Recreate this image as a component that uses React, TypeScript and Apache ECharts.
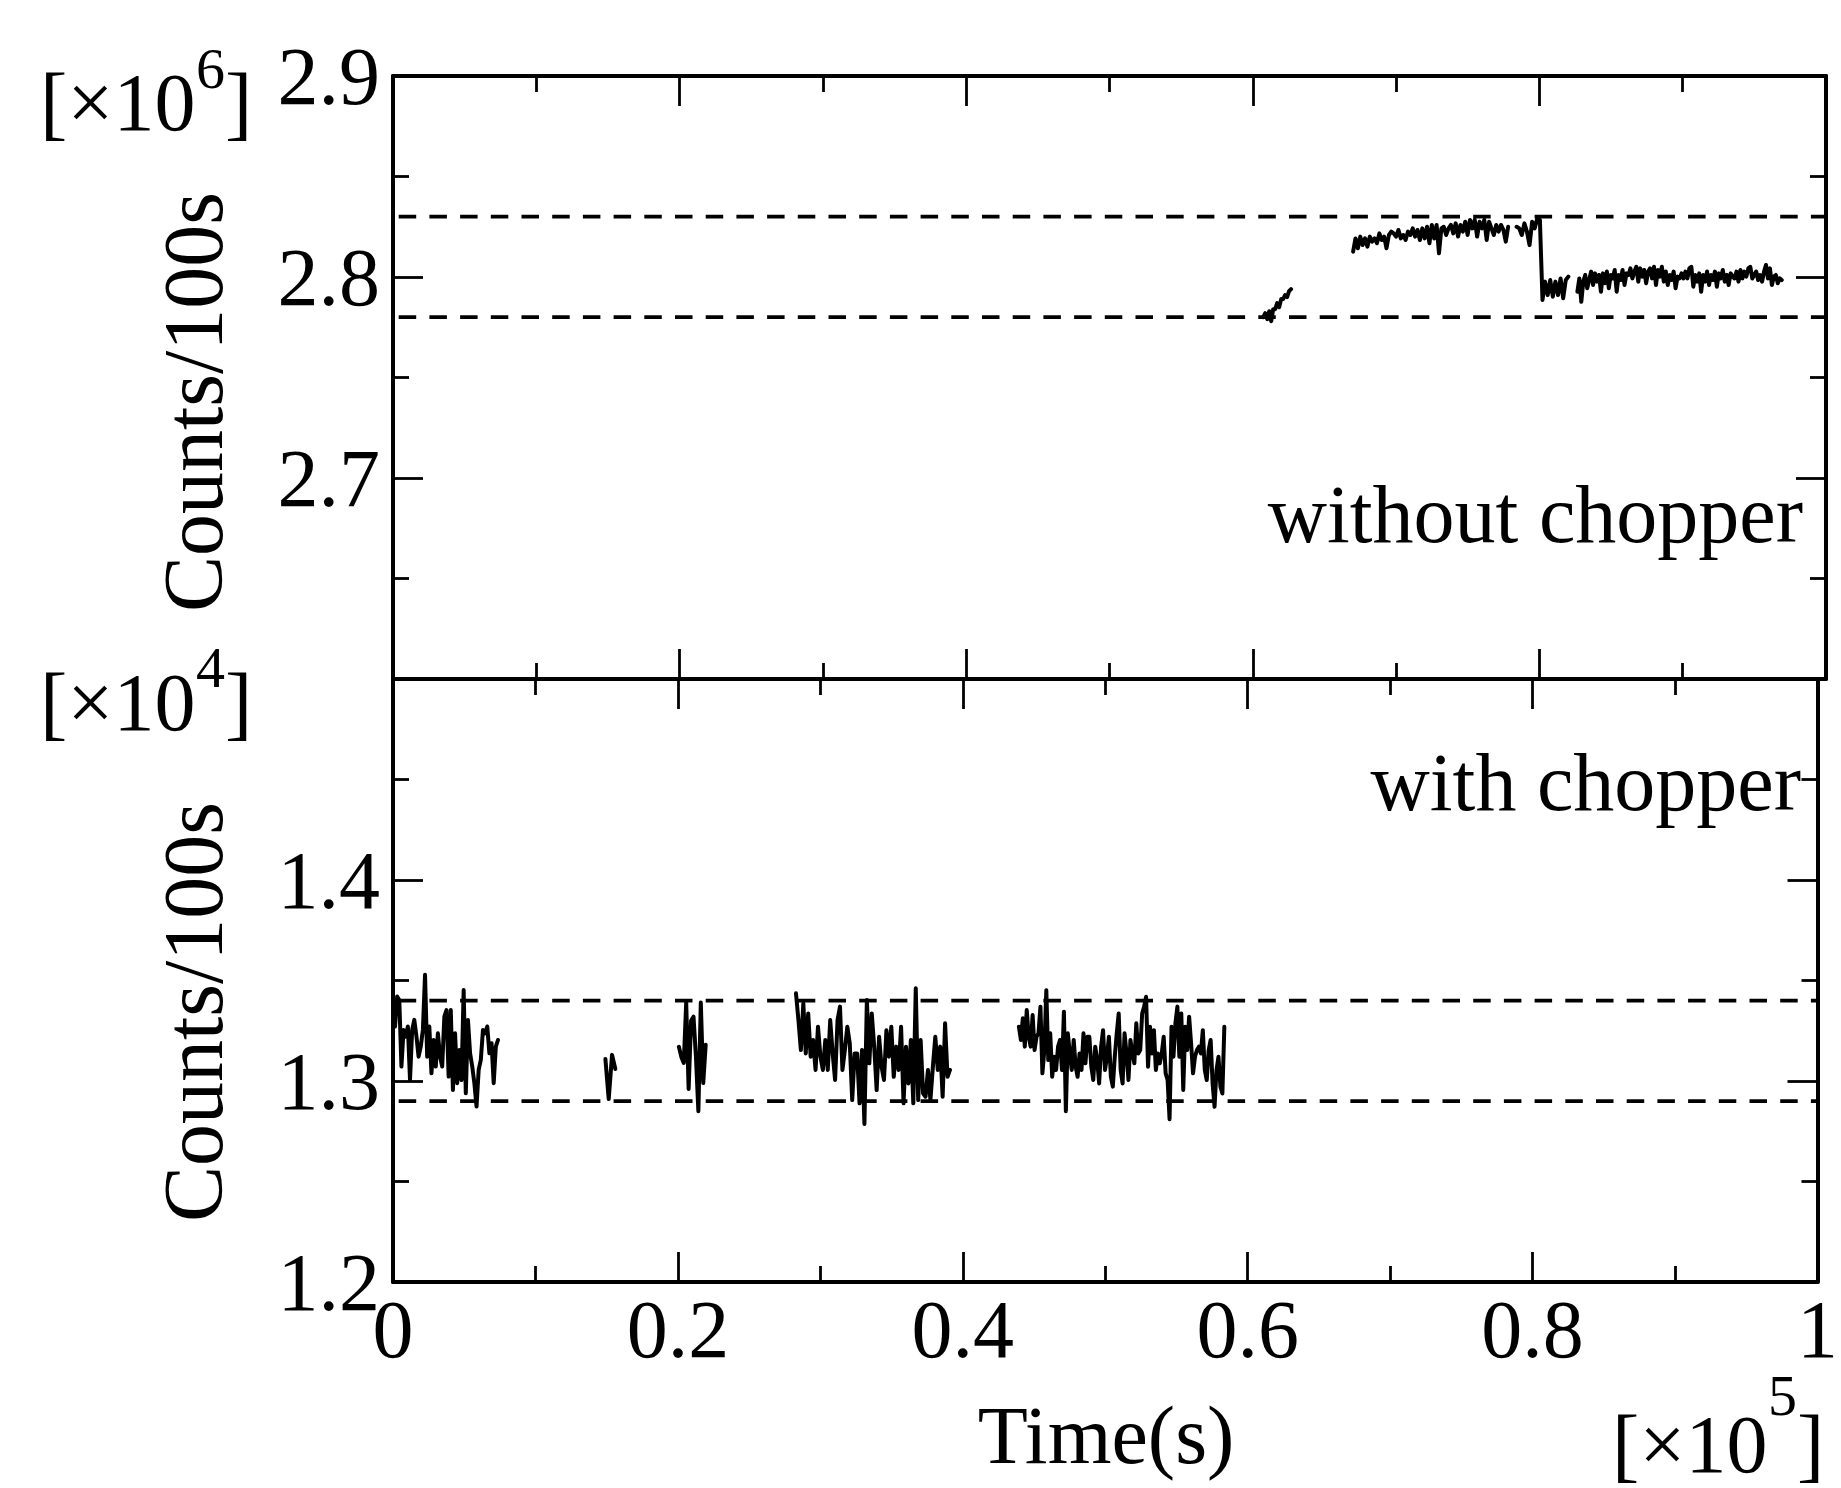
import React, { useEffect, useRef } from "react";
import * as echarts from "echarts";

// ---------- data (time in units of 1e5 s) ----------
const xTicks = [0, 0.2, 0.4, 0.6, 0.8, 1];
const topRange = [2.6, 2.9]; // ×1e6 counts/100s
const bottomRange = [1.2, 1.5]; // ×1e4 counts/100s
const topBand = [2.78, 2.83];
const bottomBand = [1.29, 1.34];

// without chopper (×1e6)
const top1Span = [0.6073, 0.6267];
const top1Values = [2.780, 2.782, 2.779, 2.783, 2.778, 2.784, 2.784, 2.787, 2.785, 2.789, 2.789, 2.791, 2.790, 2.793, 2.794];

const top2Span = [0.67, 0.7782];
const top2Values = [
  2.8126, 2.8192, 2.8143, 2.8201, 2.8159, 2.8192, 2.8151, 2.8201, 2.8176, 2.8192,
  2.8168, 2.8217, 2.8184, 2.8201, 2.8143, 2.8209, 2.8226, 2.8217, 2.8201, 2.8234,
  2.8192, 2.8209, 2.8184, 2.8226, 2.8209, 2.8242, 2.8201, 2.8234, 2.8184, 2.8242,
  2.8192, 2.825, 2.8168, 2.8259, 2.8192, 2.8259, 2.8118, 2.8242, 2.825, 2.8209,
  2.8242, 2.8259, 2.8217, 2.8267, 2.8201, 2.8259, 2.8226, 2.8275, 2.8209, 2.8284,
  2.8242, 2.8284, 2.8201, 2.8275, 2.8242, 2.8284, 2.8184, 2.8275, 2.8242, 2.8209,
  2.8259, 2.8226, 2.8259, 2.8234, 2.8176, 2.825,
];

const top3Span = [0.7841, 0.8202];
const top3Values = [
  2.825, 2.8242, 2.8209, 2.8267, 2.8226, 2.8159, 2.8275, 2.8242, 2.8292, 2.8284,
  2.7886, 2.7977, 2.791, 2.7985, 2.7902, 2.7977, 2.791, 2.7993, 2.7894, 2.7985, 2.8002,
];

const top4Span = [0.8265, 0.9691];
const top4Values = [
  2.7927, 2.7993, 2.7877, 2.7977, 2.801, 2.7944, 2.7985, 2.8027, 2.796, 2.8018,
  2.7977, 2.801, 2.7927, 2.8018, 2.7969, 2.8027, 2.7944, 2.801, 2.7993, 2.8035,
  2.7927, 2.801, 2.7985, 2.8035, 2.796, 2.8018, 2.801, 2.8043, 2.7993, 2.8027,
  2.8051, 2.7977, 2.8043, 2.8002, 2.8035, 2.7969, 2.8027, 2.8043, 2.7993, 2.8051,
  2.796, 2.8035, 2.8002, 2.8051, 2.7977, 2.8027, 2.796, 2.801, 2.7985, 2.8027,
  2.7944, 2.8002, 2.7993, 2.8018, 2.7993, 2.8027, 2.7993, 2.8043, 2.8051, 2.7952,
  2.801, 2.7977, 2.8018, 2.7927, 2.801, 2.7977, 2.8027, 2.796, 2.801, 2.7985,
  2.8027, 2.7952, 2.8018, 2.7993, 2.8035, 2.7977, 2.801, 2.796, 2.8018, 2.8002,
  2.7993, 2.8027, 2.7977, 2.8035, 2.7993, 2.8027, 2.8002, 2.8043, 2.8051, 2.7993,
  2.801, 2.8027, 2.7985, 2.801, 2.7977, 2.8027, 2.806, 2.7993, 2.8043, 2.796,
  2.8002, 2.801, 2.7969, 2.7993, 2.7985,
];

// with chopper (×1e4)
const botASpan = [0.0014, 0.0737];
const botAValues = [
  1.3271, 1.342, 1.3403, 1.3072, 1.3254, 1.3221, 1.3271, 1.3005, 1.3254, 1.3304,
  1.3221, 1.3121, 1.3171, 1.3254, 1.3528, 1.3121, 1.3271, 1.3038, 1.3204, 1.3072,
  1.3237, 1.3121, 1.3072, 1.332, 1.3353, 1.3022, 1.3353, 1.2955, 1.3237, 1.2989,
  1.3154, 1.3005, 1.3453, 1.2939, 1.3304, 1.3138, 1.3072, 1.2989, 1.2873, 1.3055,
  1.3105, 1.3254, 1.3237, 1.3271, 1.3138, 1.3188, 1.2989, 1.3171, 1.3204,
];

const botBSpan = [0.1491, 0.1561];
const botBValues = [1.311, 1.291, 1.313, 1.306];

const botCSpan = [0.2007, 0.2195];
const botCValues = [1.317, 1.312, 1.309, 1.339, 1.296, 1.33, 1.332, 1.312, 1.285, 1.339, 1.299, 1.318];

const botDSpan = [0.2829, 0.391];
const botDValues = [
  1.3436, 1.3303, 1.3154, 1.3386, 1.3137, 1.3336, 1.3121, 1.3204, 1.3055, 1.327,
  1.3121, 1.3055, 1.3204, 1.3055, 1.3303, 1.3137, 1.3005, 1.3303, 1.337, 1.3055,
  1.3154, 1.327, 1.3187, 1.2905, 1.3137, 1.3137, 1.2889, 1.3154, 1.2786, 1.3403,
  1.3088, 1.3336, 1.3171, 1.2955, 1.322, 1.3071, 1.3005, 1.3253, 1.3121, 1.327,
  1.3021, 1.3171, 1.3055, 1.327, 1.2889, 1.3171, 1.2988, 1.3204, 1.2889, 1.3461,
  1.2905, 1.3204, 1.2938, 1.2922, 1.3055, 1.2905, 1.3071, 1.322, 1.3055, 1.3171,
  1.2922, 1.3287, 1.3021, 1.3055,
];

const botESpan = [0.4394, 0.5836];
const botEValues = [
  1.327, 1.3204, 1.3312, 1.3171, 1.3353, 1.322, 1.3171, 1.3328, 1.3154, 1.322,
  1.3237, 1.337, 1.3038, 1.3154, 1.3452, 1.3104, 1.3237, 1.3021, 1.3121, 1.3055,
  1.3171, 1.3204, 1.3055, 1.3345, 1.285, 1.3237, 1.3137, 1.3055, 1.3204, 1.3071,
  1.3021, 1.3137, 1.3055, 1.3237, 1.3088, 1.322, 1.322, 1.3071, 1.3005, 1.3171,
  1.3104, 1.2988, 1.3171, 1.3253, 1.3055, 1.3121, 1.322, 1.3021, 1.2972, 1.3121,
  1.3237, 1.3336, 1.3055, 1.2988, 1.3237, 1.3137, 1.3005, 1.3204, 1.3137, 1.3088,
  1.3287, 1.3137, 1.3154, 1.3336, 1.337, 1.3419, 1.3071, 1.327, 1.3137, 1.3253,
  1.3055, 1.3137, 1.3088, 1.3137, 1.322, 1.3038, 1.3005, 1.281, 1.327, 1.3121,
  1.3287, 1.337, 1.3121, 1.3336, 1.2955, 1.327, 1.3154, 1.332, 1.3187, 1.3038,
  1.3121, 1.3154, 1.3171, 1.3137, 1.3253, 1.3055, 1.3005, 1.3154, 1.3204, 1.2988,
  1.2872, 1.3055, 1.3121, 1.2972, 1.2938, 1.327,
];

// ---------- helpers ----------
const FONT = "Liberation Serif";

function seg(span: number[], values: number[]) {
  const n = values.length;
  return values.map((v, i) => [span[0] + ((span[1] - span[0]) * i) / (n - 1), v]);
}

const dataLine = (data: number[][], axisIndex: number) => ({
  type: "line",
  xAxisIndex: axisIndex === 0 ? 0 : 2,
  yAxisIndex: axisIndex === 0 ? 0 : 2,
  data,
  symbol: "none",
  showSymbol: false,
  silent: true,
  z: 4,
  lineStyle: { color: "#000", width: 4, join: "round", cap: "round" },
});

const dashLine = (v: number, axisIndex: number) => ({
  type: "line",
  xAxisIndex: axisIndex === 0 ? 0 : 2,
  yAxisIndex: axisIndex === 0 ? 0 : 2,
  data: [
    [xTicks[0], v],
    [xTicks[xTicks.length - 1], v],
  ],
  symbol: "none",
  showSymbol: false,
  silent: true,
  z: 3,
  lineStyle: { color: "#000", width: 3.8, type: [17.5, 13.2], dashOffset: 24.7 },
});

const axisLine = { show: true, onZero: false, lineStyle: { color: "#000", width: 4 } };
const axisTick = { show: true, inside: true, length: 30, lineStyle: { color: "#000", width: 2.8 } };
const minorTick = { show: true, splitNumber: 2, length: 16, lineStyle: { color: "#000", width: 2.8 } };

function xAxisDef(gridIndex: number, position: string, showLabel: boolean) {
  return {
    type: "value",
    gridIndex,
    position,
    min: xTicks[0],
    max: xTicks[xTicks.length - 1],
    interval: 0.2,
    axisLine,
    axisTick,
    minorTick,
    splitLine: { show: false },
    minorSplitLine: { show: false },
    axisLabel: {
      show: showLabel,
      margin: 6,
      color: "#000",
      fontFamily: FONT,
      fontSize: 82,
      formatter: (v: number) => String(Math.round(v * 10) / 10),
    },
  };
}

function yAxisDef(gridIndex: number, position: string, range: number[], showLabel: boolean, hideMin: boolean) {
  return {
    type: "value",
    gridIndex,
    position,
    min: range[0],
    max: range[1],
    interval: 0.1,
    axisLine,
    axisTick,
    minorTick,
    splitLine: { show: false },
    minorSplitLine: { show: false },
    axisLabel: {
      show: showLabel,
      margin: 13,
      color: "#000",
      fontFamily: FONT,
      fontSize: 82,
      padding: [0, 0, 12, 0],
      showMinLabel: hideMin ? false : undefined,
      showMaxLabel: hideMin ? undefined : false,
      formatter: (v: number) => (Math.round(v * 10) / 10).toFixed(1),
    },
  };
}

const txt = (text: string, x: number, y: number, size: number, align = "left", extra: any = {}) => ({
  type: "text",
  x,
  y,
  silent: true,
  ...extra,
  style: { text, fontFamily: FONT, fontSize: size, fill: "#000", align, verticalAlign: "middle" },
});

export default function App() {
  const ref = useRef<HTMLDivElement>(null);

  useEffect(() => {
    document.body.style.margin = "0";
    document.body.style.overflow = "hidden";
    if (!ref.current) return;
    const chart = echarts.init(ref.current, null, { renderer: "svg" });

    const option: any = {
      animation: false,
      backgroundColor: "#fff",
      grid: [
        { left: 393, top: 76, width: 1433, height: 603 },
        { left: 393, top: 679, width: 1433, height: 603 },
      ],
      xAxis: [
        xAxisDef(0, "bottom", false),
        xAxisDef(0, "top", false),
        xAxisDef(1, "bottom", true),
        xAxisDef(1, "top", false),
      ],
      yAxis: [
        yAxisDef(0, "left", topRange, true, true),
        yAxisDef(0, "right", topRange, false, true),
        yAxisDef(1, "left", bottomRange, true, false),
        yAxisDef(1, "right", bottomRange, false, false),
      ],
      series: [
        dashLine(topBand[0], 0),
        dashLine(topBand[1], 0),
        dashLine(bottomBand[0], 1),
        dashLine(bottomBand[1], 1),
        dataLine(seg(top1Span, top1Values), 0),
        dataLine(seg(top2Span, top2Values), 0),
        dataLine(seg(top3Span, top3Values), 0),
        dataLine(seg(top4Span, top4Values), 0),
        dataLine(seg(botASpan, botAValues), 1),
        dataLine(seg(botBSpan, botBValues), 1),
        dataLine(seg(botCSpan, botCValues), 1),
        dataLine(seg(botDSpan, botDValues), 1),
        dataLine(seg(botESpan, botEValues), 1),
      ],
      graphic: [
        // top multiplier [×10^6]
        txt("[×10", 40, 102, 82),
        txt("6", 196, 68, 58),
        txt("]", 225, 102, 82),
        // bottom multiplier [×10^4]
        txt("[×10", 40, 702, 82),
        txt("4", 196, 667, 58),
        txt("]", 225, 702, 82),
        // x multiplier [×10^5]
        txt("[×10", 1612, 1444, 82),
        txt("5", 1768, 1395, 58),
        txt("]", 1797, 1444, 82),
        // y axis titles
        txt("Counts/100s", 193, 402, 84, "center", { rotation: Math.PI / 2 }),
        txt("Counts/100s", 193, 1012, 84, "center", { rotation: Math.PI / 2 }),
        // x axis title
        txt("Time(s)", 1106, 1435, 82, "center"),
        // panel annotations
        txt("without chopper", 1803, 514, 82, "right"),
        txt("with chopper", 1801, 782, 82, "right"),
      ],
    };

    chart.setOption(option);
    return () => chart.dispose();
  }, []);

  return <div ref={ref} style={{ width: 1841, height: 1488 }} />;
}
